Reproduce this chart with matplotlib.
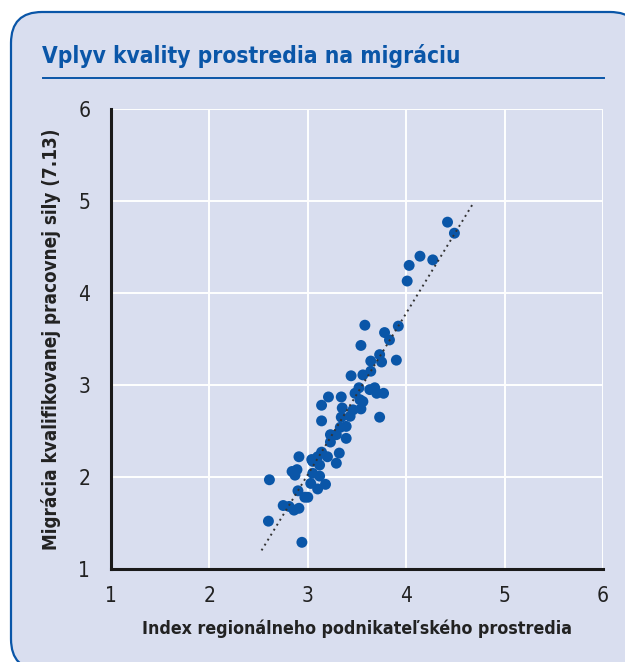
import matplotlib

matplotlib.use("Agg")
import matplotlib.pyplot as plt
import numpy as np
from matplotlib.patches import FancyBboxPatch
from matplotlib.lines import Line2D
from matplotlib.transforms import IdentityTransform

# narrow look of the original: condensed DejaVu
plt.rcParams["font.family"] = ["DejaVu Sans"]
plt.rcParams["font.stretch"] = "condensed"

TITLE = "Vplyv kvality prostredia na migráciu"
X_LABEL = "Index regionálneho podnikateľského prostredia"
Y_LABEL = "Migrácia kvalifikovanej pracovnej sily (7.13)"

x_ticks = [1, 2, 3, 4, 5, 6]
y_ticks = [1, 2, 3, 4, 5, 6]

# region values
env_index = [
    4.42, 4.49, 4.14, 4.27, 4.03, 4.01, 3.58, 3.92, 3.78, 3.83,
    3.54, 3.73, 3.75, 3.90, 3.64, 3.64, 3.56, 3.44, 3.52, 3.68,
    3.63, 3.70, 3.77, 3.48, 3.21, 3.34, 3.14, 3.53, 3.56, 3.54,
    3.35, 3.46, 3.34, 3.73, 3.43, 3.14, 3.39, 3.33, 3.39, 3.23,
    3.29, 3.23, 3.32, 3.14, 2.91, 3.04, 3.20, 3.10, 3.29, 3.12,
    3.05, 2.84, 2.89, 2.87, 2.61, 3.05, 3.12, 3.03, 3.10, 3.18,
    2.90, 2.97, 3.00, 2.75, 2.81, 2.86, 2.91, 2.60, 2.94,
]
migration = [
    4.77, 4.65, 4.40, 4.36, 4.30, 4.13, 3.65, 3.64, 3.57, 3.49,
    3.43, 3.33, 3.25, 3.27, 3.26, 3.15, 3.11, 3.10, 2.97, 2.97,
    2.95, 2.91, 2.91, 2.91, 2.87, 2.87, 2.78, 2.84, 2.82, 2.74,
    2.75, 2.73, 2.65, 2.65, 2.66, 2.61, 2.55, 2.54, 2.42, 2.46,
    2.46, 2.38, 2.26, 2.27, 2.22, 2.19, 2.22, 2.22, 2.15, 2.13,
    2.17, 2.06, 2.08, 2.02, 1.97, 2.04, 2.01, 1.93, 1.87, 1.92,
    1.85, 1.78, 1.78, 1.69, 1.68, 1.64, 1.66, 1.52, 1.29,
]
trend_range = [2.53, 4.67]

BLUE = "#0a56a8"
BG = "#d9deef"
INK = "#222222"

W, H = 625, 662
fig = plt.figure(figsize=(W / 100, H / 100), dpi=100)
fig.patch.set_facecolor("white")

# rounded panel (pixel coordinates, origin bottom-left)
panel = FancyBboxPatch(
    (11, -8), 630, H - 12 + 8,
    boxstyle="round,pad=0,rounding_size=31",
    transform=IdentityTransform(), facecolor=BG, edgecolor=BLUE, linewidth=1.6,
    zorder=-5,
)
fig.patches.append(panel)

fig.text(42 / W, 1 - 56 / H, TITLE, color=BLUE, fontsize=16.3, fontweight="bold",
         va="center", ha="left")
fig.lines.append(Line2D([43 / W, 604 / W], [1 - 78 / H, 1 - 78 / H],
                        transform=fig.transFigure, color=BLUE, linewidth=1.4))

ax = fig.add_axes([111 / W, 1 - 569 / H, 492 / W, 460 / H])
ax.set_facecolor(BG)
ax.set_xlim(1, 6)
ax.set_ylim(1, 6)
ax.set_xticks(x_ticks)
ax.set_yticks(y_ticks)
ax.tick_params(length=0, labelsize=15, colors=INK, pad=12)
ax.tick_params(axis="y", pad=15)
ax.grid(True, color="white", linewidth=1.4)
ax.set_axisbelow(True)
for side in ["top", "right"]:
    ax.spines[side].set_visible(False)
for side in ["left", "bottom"]:
    ax.spines[side].set_linewidth(2.2)
    ax.spines[side].set_color("#1a1a1a")
    ax.spines[side].set_zorder(5)

ax.scatter(env_index, migration, s=62, color=BLUE, edgecolors="none", zorder=3, clip_on=False)

slope, intercept = np.polyfit(env_index, migration, 1)
tx = np.array(trend_range)
ax.plot(tx, slope * tx + intercept, linestyle=(0, (1, 2)), color="#333333",
        linewidth=1.4, zorder=4)

ax.set_xlabel(X_LABEL, fontsize=12.8, fontweight="bold", color=INK, labelpad=10)
ax.set_ylabel(Y_LABEL, fontsize=13.5, fontweight="bold", color=INK, labelpad=12)

fig.savefig("out.png", dpi=100)
